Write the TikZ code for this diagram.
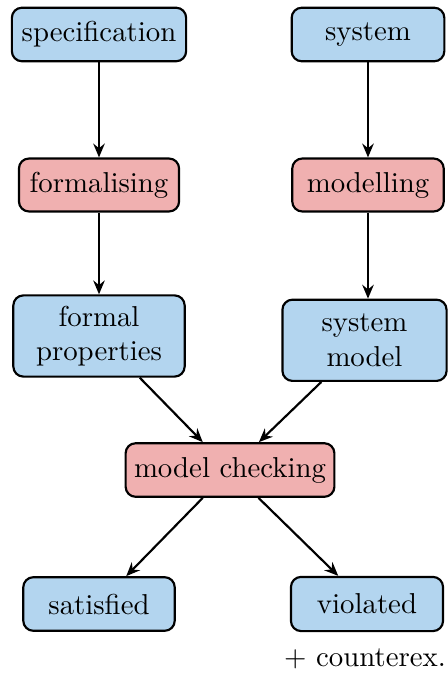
\documentclass[tikz,border=0pt]{standalone}
\usetikzlibrary{arrows.meta}
\definecolor{boxblue}{RGB}{179,213,239}
\definecolor{boxred}{RGB}{240,176,176}
\begin{document}
\begin{tikzpicture}[x=0.3472pt,y=-0.3472pt,
  base/.style={draw=black,line width=0.75pt,rounded corners=3.5pt,inner sep=2pt,align=center},
  bluebox/.style={base,fill=boxblue},
  redbox/.style={base,fill=boxred},
  conn/.style={-{Stealth[length=4.8pt,width=4pt,inset=1.6pt]},line width=0.75pt}]
\useasboundingbox (0,0) rectangle (448,673);
\node[bluebox,minimum width=60.5pt,minimum height=18.6pt] (spec) at (99,34.5) {specification};
\node[bluebox,minimum width=53pt,minimum height=18.6pt] (sys) at (368,34.5) {system};
\node[redbox,minimum width=55.6pt,minimum height=18.4pt] (form) at (99,185) {formalising};
\node[redbox,minimum width=52.6pt,minimum height=18.4pt] (modl) at (368,185) {modelling};
\node[bluebox,minimum width=59.5pt,minimum height=28.2pt] (fp) at (99,336) {formal\\properties};
\node[bluebox,minimum width=57pt,minimum height=28.2pt] (sm) at (364.5,340.3) {system\\model};
\node[redbox,minimum width=72.5pt,minimum height=18.6pt] (mc) at (230,470) {model checking};
\node[bluebox,minimum width=52.6pt,minimum height=18.6pt] (sat) at (99,604) {satisfied};
\node[bluebox,minimum width=52.8pt,minimum height=18.8pt] (vio) at (367,604) {violated};
\node[inner sep=0pt] (cex) at (365,659) {$+$ counterex.};
\draw[conn] (spec.south) -- (form.north);
\draw[conn] (form.south) -- (fp.north);
\draw[conn] (sys.south) -- (modl.north);
\draw[conn] (modl.south) -- (modl.south |- sm.north);
\draw[conn] (fp) -- (mc);
\draw[conn] (sm) -- (mc);
\draw[conn] (mc) -- (sat);
\draw[conn] (mc) -- (vio);
\end{tikzpicture}
\end{document}
